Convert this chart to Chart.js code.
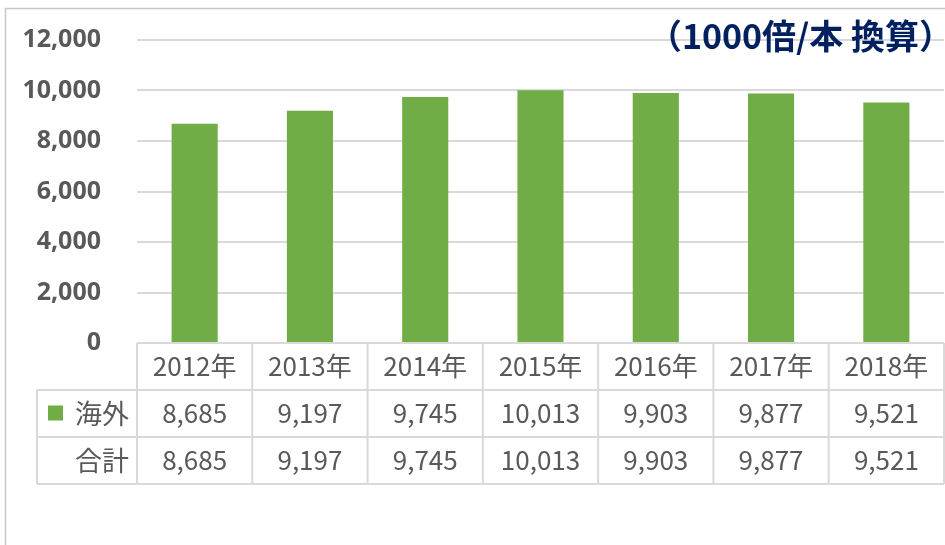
<!DOCTYPE html>
<html>
<head>
<meta charset="utf-8">
<script src="https://cdn.jsdelivr.net/npm/chart.js@4"></script>
<style>
  body { margin: 0; background: #fff; }
  #wrap { width: 945px; height: 545px; position: relative; }
</style>
</head>
<body>
<div id="wrap"><canvas id="salesChart" width="945" height="545"></canvas></div>
<script>
// Yearly figures (units converted at 1000x per bottle)
const years = ['2012年', '2013年', '2014年', '2015年', '2016年', '2017年', '2018年'];
const overseas = [8685, 9197, 9745, 10013, 9903, 9877, 9521];
const totals = [8685, 9197, 9745, 10013, 9903, 9877, 9521];
const rowLabels = ['海外', '合計'];
const unitNote = '（1000倍/本 換算）';

const GREEN = '#70ad47';
const TEXT = '#595959';
const LINE = '#d9d9d9';
const JP_FONT = '"Noto Sans CJK JP", "Noto Sans", sans-serif';

function fmt(n) {
    return n.toLocaleString('en-US');
}

// Data table under the plot, plus frame and unit note
const dataTable = {
    id: 'dataTable',
    afterDraw(chart) {
        const ctx = chart.ctx;
        const area = chart.chartArea;
        const n = years.length;
        const colW = (area.right - area.left) / n;
        const rowH = 47;
        const top = area.bottom;
        const labelLeft = 37;

        ctx.save();

        // outer frame
        ctx.strokeStyle = '#c8c8c8';
        ctx.lineWidth = 1.5;
        ctx.beginPath();
        ctx.moveTo(5.5, 545);
        ctx.lineTo(5.5, 8.5);
        ctx.lineTo(945, 8.5);
        ctx.stroke();

        // table grid
        ctx.strokeStyle = LINE;
        ctx.lineWidth = 2;
        ctx.beginPath();
        ctx.moveTo(area.left, top);
        ctx.lineTo(area.right, top);
        for (let r = 1; r <= 3; r++) {
            ctx.moveTo(labelLeft, top + r * rowH);
            ctx.lineTo(area.right, top + r * rowH);
        }
        for (let i = 0; i <= n; i++) {
            const x = area.left + i * colW;
            ctx.moveTo(x, top);
            ctx.lineTo(x, top + 3 * rowH);
        }
        ctx.moveTo(labelLeft, top + rowH);
        ctx.lineTo(labelLeft, top + 3 * rowH);
        ctx.stroke();

        // cell text
        ctx.fillStyle = TEXT;
        ctx.font = '26px ' + JP_FONT;
        ctx.textAlign = 'center';
        ctx.textBaseline = 'middle';
        years.forEach((y, i) => {
            const cx = chart.scales.x.getPixelForValue(i);
            ctx.fillText(y, cx, top + rowH * 0.5);
            ctx.fillText(fmt(overseas[i]), cx, top + rowH * 1.5);
            ctx.fillText(fmt(totals[i]), cx, top + rowH * 2.5);
        });

        // row headers
        ctx.textAlign = 'right';
        ctx.font = '27px ' + JP_FONT;
        ctx.fillText(rowLabels[0], area.left - 8, top + rowH * 1.5);
        ctx.fillText(rowLabels[1], area.left - 8, top + rowH * 2.5);
        ctx.fillStyle = GREEN;
        ctx.fillRect(48, top + rowH * 1.5 - 8, 15, 15);

        // unit note
        ctx.fillStyle = '#002060';
        ctx.font = 'bold 34px ' + JP_FONT;
        ctx.textAlign = 'right';
        ctx.fillText(unitNote, 953, 36);

        ctx.restore();
    }
};

new Chart(document.getElementById('salesChart'), {
    type: 'bar',
    data: {
        labels: years,
        datasets: [{
            label: rowLabels[0],
            data: overseas,
            backgroundColor: GREEN,
            barPercentage: 0.4,
            categoryPercentage: 1.0
        }]
    },
    options: {
        responsive: false,
        animation: false,
        layout: {
            padding: { left: 0, top: 40, right: 1, bottom: 202 }
        },
        plugins: {
            legend: { display: false },
            tooltip: { enabled: false }
        },
        scales: {
            x: {
                display: false
            },
            y: {
                min: 0,
                max: 12000,
                afterFit(scale) {
                    scale.width = 137;
                    scale.paddingTop = 0;
                    scale.paddingBottom = 0;
                },
                ticks: {
                    stepSize: 2000,
                    padding: 36,
                    color: TEXT,
                    font: { family: '"Open Sans", sans-serif', size: 25, weight: 'bold' },
                    callback: v => fmt(v)
                },
                grid: {
                    color: LINE,
                    lineWidth: 2,
                    drawTicks: false
                },
                border: { display: false }
            }
        }
    },
    plugins: [dataTable]
});
</script>
</body>
</html>
